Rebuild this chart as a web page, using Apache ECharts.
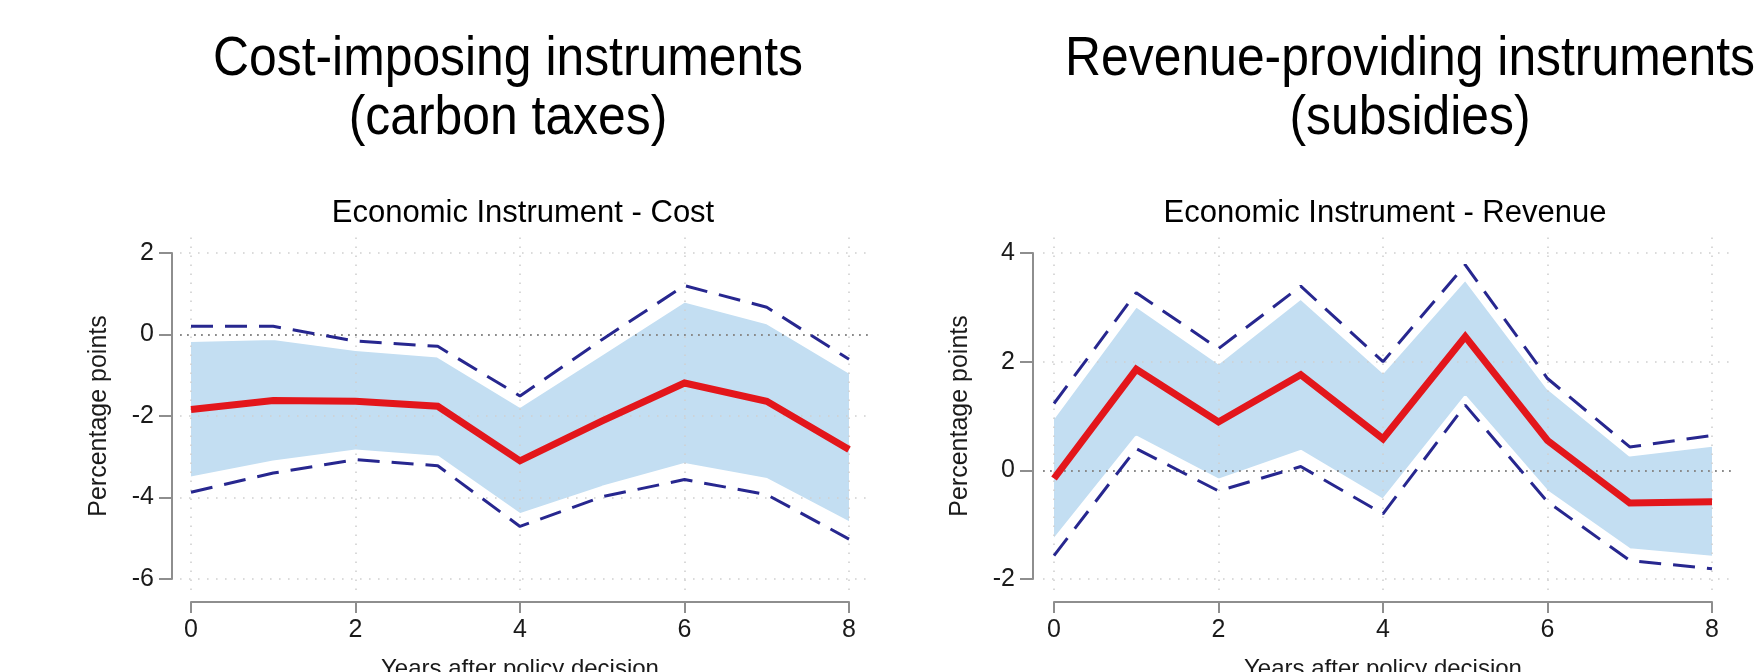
<!DOCTYPE html>
<html>
<head>
<meta charset="utf-8">
<title>Economic instruments – event study</title>
<script src="https://cdn.jsdelivr.net/npm/echarts@6/dist/echarts.min.js"></script>
<style>
  html, body { margin: 0; padding: 0; background: #ffffff; }
  #chart { width: 1754px; height: 672px; }
</style>
</head>
<body>
<div id="chart"></div>
<script>
// Horizon (years after the policy decision)
const years = ['0', '1', '2', '3', '4', '5', '6', '7', '8'];
const xTicks = [0, 2, 4, 6, 8];

// Cost-imposing instruments (carbon taxes)
const costTicks = [-6, -4, -2, 0, 2];
const costEstimate = [-1.84, -1.62, -1.64, -1.76, -3.10, -2.12, -1.19, -1.64, -2.82];
const costBandLow  = [-3.52, -3.13, -2.86, -3.01, -4.42, -3.75, -3.19, -3.56, -4.62];
const costBandHigh = [-0.15, -0.10, -0.37, -0.53, -1.76, -0.47, 0.82, 0.29, -0.92];
const costCiLow    = [-3.87, -3.40, -3.07, -3.22, -4.71, -3.98, -3.56, -3.93, -5.02];
const costCiHigh   = [0.20, 0.20, -0.16, -0.29, -1.51, -0.12, 1.20, 0.67, -0.61];

// Revenue-providing instruments (subsidies)
const revTicks = [-2, 0, 2, 4];
const revEstimate = [-0.15, 1.86, 0.89, 1.76, 0.58, 2.46, 0.55, -0.60, -0.58];
const revBandLow  = [-1.28, 0.61, -0.18, 0.35, -0.55, 1.35, -0.40, -1.46, -1.60];
const revBandHigh = [0.98, 3.03, 1.98, 3.17, 1.81, 3.52, 1.52, 0.28, 0.46];
const revCiLow    = [-1.57, 0.40, -0.38, 0.07, -0.80, 1.20, -0.58, -1.66, -1.81];
const revCiHigh   = [1.23, 3.27, 2.24, 3.39, 2.00, 3.78, 1.69, 0.43, 0.64];

const headerLeft = ['Cost-imposing instruments', '(carbon taxes)'];
const headerRight = ['Revenue-providing instruments', '(subsidies)'];
const panelTitles = ['Economic Instrument - Cost', 'Economic Instrument - Revenue'];
const xName = 'Years after policy decision';
const yName = 'Percentage points';

// ---- styling ----
const FONT = '"Liberation Sans", Arial, Helvetica, sans-serif';
const AXIS_GRAY = '#8e8e8e';
const BAND_BLUE = '#c3def2';
const CI_NAVY = '#27278f';
const EST_RED = '#e3161b';

// Panel geometry: the axis box spans the tick range, the plot box is the
// slightly larger region where the dotted grid is drawn.
const panels = [
  { axisBox: { left: 191, top: 253, width: 658, height: 326 },
    plotBox: { left: 180, top: 235, width: 688, height: 355 },
    yOffset: 19, xOffset: 23, titleX: 523 },
  { axisBox: { left: 1054, top: 253, width: 658, height: 326 },
    plotBox: { left: 1043, top: 235, width: 689, height: 355 },
    yOffset: 21, xOffset: 23, titleX: 1385 }
];

// Value range of the plot box that lines up with the axis box
function outerX(lo, hi, inner, outer) {
  const per = (hi - lo) / inner.width;
  const min = lo - (inner.left - outer.left) * per;
  return [min, min + outer.width * per];
}
function outerY(lo, hi, inner, outer) {
  const per = (hi - lo) / inner.height;
  const max = hi + (inner.top - outer.top) * per;
  return [max - outer.height * per, max];
}

const grids = [], xAxes = [], yAxes = [], series = [];

function addPanel(p, yTicks, est, bLow, bHigh, ciLow, ciHigh) {
  const gA = grids.length;
  grids.push(Object.assign({ outerBoundsMode: 'none', containLabel: false }, p.plotBox));
  grids.push(Object.assign({ outerBoundsMode: 'none', containLabel: false }, p.axisBox));
  const gB = gA + 1;

  const xLo = xTicks[0], xHi = xTicks[xTicks.length - 1];
  const yLo = yTicks[0], yHi = yTicks[yTicks.length - 1];
  const [pxMin, pxMax] = outerX(xLo, xHi, p.axisBox, p.plotBox);
  const [pyMin, pyMax] = outerY(yLo, yHi, p.axisBox, p.plotBox);

  // plot box axes (hidden) carry the dotted grid
  xAxes.push({ gridIndex: gA, type: 'value', min: pxMin, max: pxMax, show: false });
  yAxes.push({ gridIndex: gA, type: 'value', min: pyMin, max: pyMax, show: false });

  const lineStyle = { color: AXIS_GRAY, width: 2 };
  const step = xTicks[1] - xTicks[0];
  xAxes.push({
    gridIndex: gB, type: 'category', data: years, boundaryGap: false,
    offset: p.xOffset,
    axisLine: { show: true, onZero: false, lineStyle },
    axisTick: { show: true, length: 11, interval: step - 1, lineStyle },
    axisLabel: { interval: step - 1, fontSize: 25, fontFamily: FONT, color: '#1a1a1a', margin: 16 },
    splitLine: { show: false },
    name: xName, nameLocation: 'middle', nameGap: 55,
    nameTextStyle: { fontSize: 24, fontFamily: FONT, color: '#1a1a1a' }
  });
  yAxes.push({
    gridIndex: gB, type: 'value', min: yLo, max: yHi, interval: yTicks[1] - yTicks[0],
    offset: p.yOffset,
    axisLine: { show: true, onZero: false, lineStyle },
    axisTick: { show: true, length: 13, lineStyle },
    axisLabel: { fontSize: 25, fontFamily: FONT, color: '#1a1a1a', margin: 18 },
    splitLine: { show: false },
    name: yName, nameLocation: 'middle', nameGap: 60,
    nameTextStyle: { fontSize: 25, fontFamily: FONT, color: '#1a1a1a' }
  });
  const xA = xAxes.length - 2, yA = yAxes.length - 2;
  const xB = xAxes.length - 1, yB = yAxes.length - 1;

  // dotted grid
  series.push({
    type: 'line', xAxisIndex: xA, yAxisIndex: yA, z: 1, silent: true,
    data: [[xTicks[0], yTicks[0]]], symbol: 'none', lineStyle: { opacity: 0 },
    markLine: {
      silent: true, symbol: ['none', 'none'], label: { show: false },
      lineStyle: { color: '#d0d0d0', width: 1.6, type: [1.6, 7.4] },
      data: xTicks.map(v => ({ xAxis: v })).concat(yTicks.filter(v => v !== 0).map(v => ({ yAxis: v })))
    }
  });

  // confidence band: lower edge + stacked width
  const stackId = 'band' + gA;
  series.push({
    type: 'line', xAxisIndex: xB, yAxisIndex: yB, z: 3, stack: stackId, stackStrategy: 'all',
    data: bLow, symbol: 'none', silent: true,
    lineStyle: { color: '#ffffff', width: 3 }
  });
  series.push({
    type: 'line', xAxisIndex: xB, yAxisIndex: yB, z: 2, stack: stackId, stackStrategy: 'all',
    data: bHigh.map((v, i) => +(v - bLow[i]).toFixed(4)), symbol: 'none', silent: true,
    lineStyle: { color: '#ffffff', width: 3 },
    areaStyle: { color: BAND_BLUE, opacity: 1 }
  });

  // zero reference line
  series.push({
    type: 'line', xAxisIndex: xA, yAxisIndex: yA, z: 4, silent: true,
    data: [[xTicks[0], yTicks[0]]], symbol: 'none', lineStyle: { opacity: 0 },
    markLine: {
      silent: true, symbol: ['none', 'none'], label: { show: false },
      lineStyle: { color: '#8a8a8a', width: 1.8, type: [1.8, 5.2] },
      data: [{ yAxis: 0 }]
    }
  });

  // outer interval (dashed)
  [ciLow, ciHigh].forEach(vals => {
    series.push({
      type: 'line', xAxisIndex: xB, yAxisIndex: yB, z: 5, silent: true,
      data: vals, symbol: 'none',
      lineStyle: { color: CI_NAVY, width: 3, type: [22, 12] }
    });
  });

  // point estimate
  series.push({
    type: 'line', xAxisIndex: xB, yAxisIndex: yB, z: 6, silent: true,
    data: est, symbol: 'none',
    lineStyle: { color: EST_RED, width: 7, join: 'miter' }
  });
}

addPanel(panels[0], costTicks, costEstimate, costBandLow, costBandHigh, costCiLow, costCiHigh);
addPanel(panels[1], revTicks, revEstimate, revBandLow, revBandHigh, revCiLow, revCiHigh);

function label(text, x, y, size, sx) {
  return {
    type: 'text', x, y, silent: true, scaleX: sx || 1, scaleY: 1,
    style: {
      text, fill: '#000000', font: size + 'px ' + FONT,
      align: 'center', verticalAlign: 'middle',
      textAlign: 'center', textVerticalAlign: 'middle'
    }
  };
}

const graphic = [
  label(headerLeft[0], 508, 60, 56, 0.89),
  label(headerLeft[1], 508, 119, 56, 0.89),
  label(headerRight[0], 1410, 60, 56, 0.89),
  label(headerRight[1], 1410, 119, 56, 0.89),
  label(panelTitles[0], panels[0].titleX, 213, 31),
  label(panelTitles[1], panels[1].titleX, 213, 31)
];

const chart = echarts.init(document.getElementById('chart'), null, { renderer: 'canvas' });
chart.setOption({
  animation: false,
  backgroundColor: '#ffffff',
  grid: grids,
  xAxis: xAxes,
  yAxis: yAxes,
  series,
  graphic
});
</script>
</body>
</html>
